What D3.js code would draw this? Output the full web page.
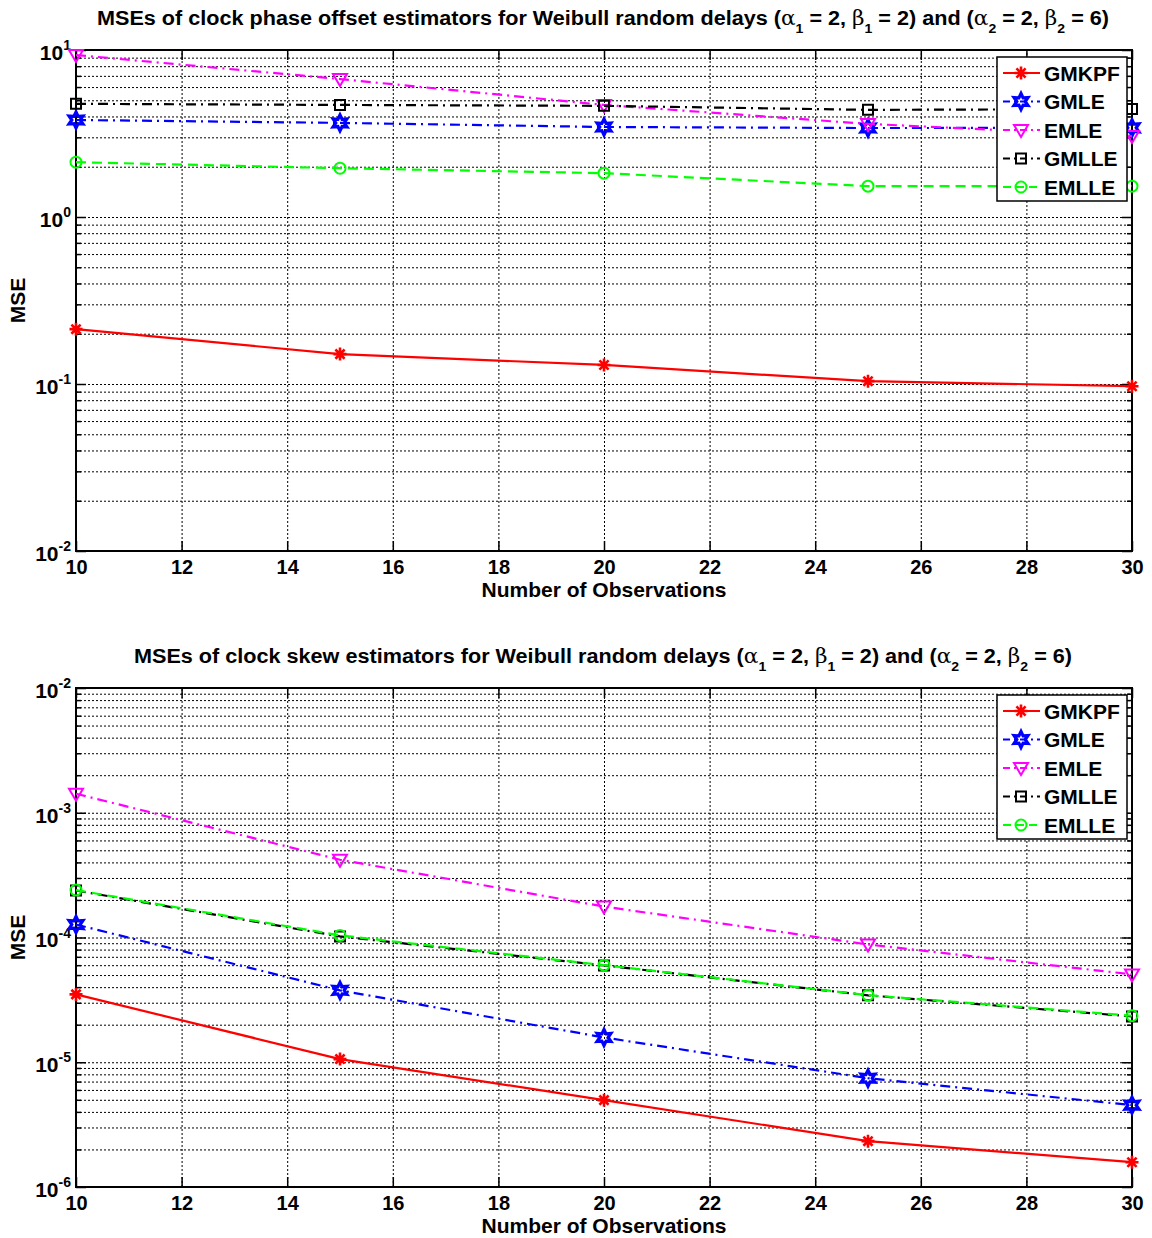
<!DOCTYPE html>
<html><head><meta charset="utf-8">
<script src="https://cdn.jsdelivr.net/npm/d3@7"></script>
<style>
body{margin:0;background:#fff;}
svg text{font-family:"Liberation Sans",Arial,sans-serif;font-weight:bold;fill:#000;}
</style></head>
<body><svg id="c" width="1152" height="1238"></svg>
<script>
const observations = [10, 15, 20, 25, 30];
const seriesNames = ["GMKPF", "GMLE", "EMLE", "GMLLE", "EMLLE"];
// Top chart: clock phase offset MSEs
const phaseGMKPF = [0.213, 0.151, 0.130, 0.104, 0.097];
const phaseGMLE  = [3.81, 3.66, 3.46, 3.41, 3.42];
const phaseEMLE  = [9.33, 6.70, 4.69, 3.61, 3.05];
const phaseGMLLE = [4.76, 4.69, 4.63, 4.38, 4.43];
const phaseEMLLE = [2.13, 1.96, 1.83, 1.53, 1.53];
// Bottom chart: clock skew MSEs
const skewGMKPF = [3.5e-5, 1.06e-5, 4.97e-6, 2.33e-6, 1.58e-6];
const skewGMLE  = [1.27e-4, 3.77e-5, 1.58e-5, 7.45e-6, 4.53e-6];
const skewEMLE  = [1.42e-3, 4.2e-4, 1.77e-4, 8.8e-5, 5.06e-5];
const skewGMLLE = [2.38e-4, 1.02e-4, 5.97e-5, 3.44e-5, 2.33e-5];
const skewEMLLE = [2.40e-4, 1.04e-4, 6.0e-5, 3.45e-5, 2.36e-5];
const xTicks = [10, 12, 14, 16, 18, 20, 22, 24, 26, 28, 30];
const phaseYDecades = [1e-2, 1e-1, 1, 10];
const skewYDecades = [1e-6, 1e-5, 1e-4, 1e-3, 1e-2];

const styles = {
  GMKPF: {color:"#ff0000", dash:null, marker:"asterisk"},
  GMLE:  {color:"#0000ff", dash:"10,5,2,5", marker:"hexagram"},
  EMLE:  {color:"#ff00ff", dash:"10,5,2,5", marker:"triangle"},
  GMLLE: {color:"#000000", dash:"10,5,2,5", marker:"square"},
  EMLLE: {color:"#00ff00", dash:"10,6", marker:"circle"}
};

const svg = d3.select("#c");

function markerPath(type){
  const p = d3.path();
  if(type==="asterisk"){
    const r=6.5;
    for(let i=0;i<4;i++){const a=i*Math.PI/4;p.moveTo(-r*Math.cos(a),-r*Math.sin(a));p.lineTo(r*Math.cos(a),r*Math.sin(a));}
  } else if(type==="hexagram"){
    const R=8, r=4.2;
    for(let i=0;i<12;i++){const a=-Math.PI/2+i*Math.PI/6;const rr=i%2?r:R; if(i===0)p.moveTo(rr*Math.cos(a),rr*Math.sin(a)); else p.lineTo(rr*Math.cos(a),rr*Math.sin(a));}
    p.closePath();
  } else if(type==="triangle"){
    p.moveTo(-7,-5);p.lineTo(7,-5);p.lineTo(0,7);p.closePath();
  } else if(type==="square"){
    p.rect(-5,-5,10,10);
  } else if(type==="circle"){
    p.arc(0,0,5.5,0,2*Math.PI);
  }
  return p.toString();
}

function drawMarker(g, type, color, x, y){
  g.append("path").attr("d", markerPath(type)).attr("transform",`translate(${x},${y})`)
    .attr("fill", "none").attr("stroke", color).attr("stroke-width", type==="hexagram"?3.2:(type==="asterisk"?2.6:2));
}

function subTitle(t, parts){
  parts.forEach(([s, sub, sym])=>{
    const ts = t.append("tspan").text(s);
    if(sym){ ts.style("font-family","'DejaVu Serif',serif").style("font-weight","normal"); }
    if(sub){ ts.attr("baseline-shift","sub").style("font-size","13px"); }
  });
}

function drawChart(cfg){
  const {top, bottom, left, right, yDomain, yDecades, data, title, titleLen} = cfg;
  const x = d3.scaleLinear().domain([10,30]).range([left,right]);
  const y = d3.scaleLog().domain(yDomain).range([bottom, top]);
  const W = right-left, H = bottom-top;
  const g = svg.append("g");

  const minors = [];
  for(let i=0;i<yDecades.length-1;i++) for(let k=2;k<=9;k++) minors.push(yDecades[i]*k);
  const allY = yDecades.concat(minors);

  // grid
  g.append("g").attr("transform",`translate(0,${bottom})`)
    .call(d3.axisBottom(x).tickValues(xTicks).tickSize(-H).tickFormat(""))
    .call(s=>{s.select(".domain").remove();s.selectAll("line").attr("stroke","#000").attr("stroke-width",1).attr("stroke-dasharray","2,2");});
  g.append("g").attr("transform",`translate(${left},0)`)
    .call(d3.axisLeft(y).tickValues(allY).tickSize(-W).tickFormat(""))
    .call(s=>{s.select(".domain").remove();s.selectAll("line").attr("stroke","#000").attr("stroke-width",1).attr("stroke-dasharray","2,2");});

  // frame
  g.append("rect").attr("x",left).attr("y",top).attr("width",W).attr("height",H)
    .attr("fill","none").attr("stroke","#000").attr("stroke-width",2);

  const tickStyle = s=>{s.select(".domain").remove();s.selectAll("line").attr("stroke","#000").attr("stroke-width",1.5);};
  g.append("g").attr("transform",`translate(0,${bottom})`).call(d3.axisBottom(x).tickValues(xTicks).tickSize(-10).tickFormat("")).call(tickStyle);
  g.append("g").attr("transform",`translate(0,${top})`).call(d3.axisTop(x).tickValues(xTicks).tickSize(-10).tickFormat("")).call(tickStyle);
  g.append("g").attr("transform",`translate(${left},0)`).call(d3.axisLeft(y).tickValues(yDecades).tickSize(-10).tickFormat("")).call(tickStyle);
  g.append("g").attr("transform",`translate(${right},0)`).call(d3.axisRight(y).tickValues(yDecades).tickSize(-10).tickFormat("")).call(tickStyle);
  g.append("g").attr("transform",`translate(${left},0)`).call(d3.axisLeft(y).tickValues(minors).tickSize(-5).tickFormat("")).call(tickStyle);
  g.append("g").attr("transform",`translate(${right},0)`).call(d3.axisRight(y).tickValues(minors).tickSize(-5).tickFormat("")).call(tickStyle);

  // x tick labels
  g.append("g").attr("transform",`translate(0,${bottom})`)
    .call(d3.axisBottom(x).tickValues(xTicks).tickSize(0).tickPadding(9).tickFormat(d3.format("d")))
    .call(s=>{s.select(".domain").remove();s.selectAll("text").style("font-size","20px").style("font-family","'Liberation Sans',Arial,sans-serif").style("font-weight","bold").attr("fill","#000");});
  // y tick labels
  g.append("g").attr("transform",`translate(${left},0)`)
    .call(d3.axisLeft(y).tickValues(yDecades).tickSize(0).tickPadding(6).tickFormat(""))
    .call(s=>{
      s.select(".domain").remove();
      s.selectAll(".tick text").each(function(d){
        const t = d3.select(this).attr("x",-5).attr("dy","0.45em").attr("text-anchor","end")
          .style("font-size","21px").style("font-family","'Liberation Sans',Arial,sans-serif").style("font-weight","bold").attr("fill","#000");
        t.append("tspan").text("10");
        t.append("tspan").attr("dy","-0.7em").style("font-size","14px").text(Math.round(Math.log10(d)));
      });
    });

  // axis labels
  g.append("text").attr("x",(left+right)/2).attr("y",bottom+46).attr("text-anchor","middle").style("font-size","21px").text("Number of Observations");
  g.append("text").attr("transform",`translate(25,${(top+bottom)/2}) rotate(-90)`).attr("text-anchor","middle").style("font-size","21px").text("MSE");

  // title
  const t = g.append("text").attr("x",(left+right)/2 - 1).attr("y",top-25).attr("text-anchor","middle").style("font-size","20px")
    .attr("textLength", titleLen).attr("lengthAdjust","spacingAndGlyphs");
  subTitle(t, title);

  // series
  const line = d3.line().x((d,i)=>x(observations[i])).y(d=>y(d));
  seriesNames.forEach(name=>{
    const st = styles[name];
    g.append("path").datum(data[name]).attr("d",line).attr("fill","none").attr("stroke",st.color)
      .attr("stroke-width",2.2).attr("stroke-dasharray",st.dash);
    data[name].forEach((v,i)=>drawMarker(g, st.marker, st.color, x(observations[i]), y(v)));
  });

  // legend
  const lx=997, ly=top+7, lw=130, lh=144;
  const lg = g.append("g");
  lg.append("rect").attr("x",lx).attr("y",ly).attr("width",lw).attr("height",lh).attr("fill","#fff").attr("stroke","#000").attr("stroke-width",1.5);
  seriesNames.forEach((name,i)=>{
    const st = styles[name];
    const yy = ly+16+i*28.5;
    lg.append("line").attr("x1",1003).attr("x2",1040).attr("y1",yy).attr("y2",yy).attr("stroke",st.color).attr("stroke-width",2)
      .attr("stroke-dasharray", st.dash?(name==="EMLLE"?"8,5":"7,4,2,4"):null);
    drawMarker(lg, st.marker, st.color, 1021, yy);
    lg.append("text").attr("x",1044).attr("y",yy+7.5).style("font-size","21px").text(name);
  });
}

const a="\u03B1", b="\u03B2";
drawChart({top:50,bottom:551,left:76,right:1132,yDomain:[1e-2,10],yDecades:phaseYDecades,titleLen:1012,
  data:{GMKPF:phaseGMKPF,GMLE:phaseGMLE,EMLE:phaseEMLE,GMLLE:phaseGMLLE,EMLLE:phaseEMLLE},
  title:[["MSEs of clock phase offset estimators for Weibull random delays ("],[a,false,true],["1",true],[" = 2, "],[b,false,true],["1",true],[" = 2) and ("],[a,false,true],["2",true],[" = 2, "],[b,false,true],["2",true],[" = 6)"]]});
drawChart({top:688,bottom:1187,left:76,right:1132,yDomain:[1e-6,1e-2],yDecades:skewYDecades,titleLen:938,
  data:{GMKPF:skewGMKPF,GMLE:skewGMLE,EMLE:skewEMLE,GMLLE:skewGMLLE,EMLLE:skewEMLLE},
  title:[["MSEs of clock skew estimators for Weibull random delays ("],[a,false,true],["1",true],[" = 2, "],[b,false,true],["1",true],[" = 2) and ("],[a,false,true],["2",true],[" = 2, "],[b,false,true],["2",true],[" = 6)"]]});
</script></body></html>
